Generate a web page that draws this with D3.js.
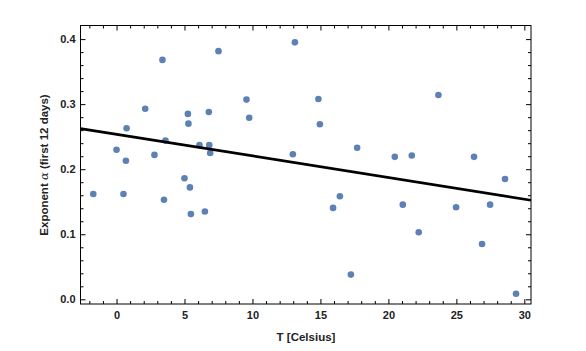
<!DOCTYPE html>
<html>
<head>
<meta charset="utf-8">
<script src="https://cdn.jsdelivr.net/npm/d3@7"></script>
<style>
  body { margin: 0; background: #fff; }
  svg text { font-family: "Liberation Sans", Arial, sans-serif; font-weight: bold; fill: #222; }
</style>
</head>
<body>
<div id="chart"></div>
<script>
// temperature (Celsius) of each sample
const tempC = [3.38, 7.5, 13.12, 2.11, 9.56, 9.76, 5.25, 6.79, 5.29, 0.74,
  0.0, 3.6, 6.1, 6.82, 6.89, 2.79, 0.69, 12.97, 5.0, 14.85,
  14.96, 23.68, 17.7, 20.47, 21.72, 26.3, 28.58, -1.71, 0.51, 3.49,
  5.4, 5.47, 6.5, 16.43, 15.93, 21.06, 24.98, 27.48, 22.23, 26.89,
  17.24, 29.39];

// exponent alpha for the first 12 days
const alphaVals = [0.368, 0.3815, 0.395, 0.293, 0.307, 0.279, 0.285, 0.288, 0.270, 0.263,
  0.230, 0.244, 0.237, 0.237, 0.225, 0.222, 0.213, 0.223, 0.186, 0.308,
  0.269, 0.314, 0.233, 0.219, 0.221, 0.219, 0.185, 0.162, 0.162, 0.153,
  0.172, 0.131, 0.135, 0.1585, 0.1405, 0.1455, 0.1415, 0.1455, 0.103, 0.085,
  0.038, 0.0086];

// fitted line, end points
const fitX = [-2.65, 30.49];
const fitY = [0.2625, 0.1523];

const xTicks = [0, 5, 10, 15, 20, 25, 30];
const yTicks = [0.0, 0.1, 0.2, 0.3, 0.4];

const points = tempC.map((t, i) => ({ t: t, a: alphaVals[i] }));

const fullWidth = 586;
const fullHeight = 351;
const margin = { top: 25.5, right: 55, bottom: 47, left: 80.5 };
const width = fullWidth - margin.left - margin.right;
const height = fullHeight - margin.top - margin.bottom;

const svg = d3.select("#chart")
  .append("svg")
  .attr("width", fullWidth)
  .attr("height", fullHeight)
  .append("g")
  .attr("transform", `translate(${margin.left},${margin.top})`);

// scales
const x = d3.scaleLinear().domain([-2.65, 30.49]).range([0, width]);
const y = d3.scaleLinear().domain([-0.0072, 0.4209]).range([height, 0]);

const xMinor = d3.range(-2, 31, 1).filter(v => v % 5 !== 0);
const yMinor = d3.range(0, 0.42, 0.02).filter(v => Math.round(v * 100) % 10 !== 0);

function styleAxis(g) {
  g.select(".domain").remove();
  g.selectAll("line").attr("stroke", "#000");
  g.selectAll("text").style("font-size", "11px");
}

// bottom axis
svg.append("g")
  .attr("transform", `translate(0,${height})`)
  .call(d3.axisBottom(x).tickValues(xTicks).tickSize(-5).tickPadding(7).tickFormat(d3.format("d")))
  .call(styleAxis);
svg.append("g")
  .attr("transform", `translate(0,${height})`)
  .call(d3.axisBottom(x).tickValues(xMinor).tickSize(-3).tickFormat(""))
  .call(styleAxis);

// top axis
svg.append("g")
  .call(d3.axisTop(x).tickValues(xTicks).tickSize(-5).tickFormat(""))
  .call(styleAxis);
svg.append("g")
  .call(d3.axisTop(x).tickValues(xMinor).tickSize(-3).tickFormat(""))
  .call(styleAxis);

// left axis
svg.append("g")
  .call(d3.axisLeft(y).tickValues(yTicks).tickSize(-5).tickPadding(5).tickFormat(d3.format(".1f")))
  .call(styleAxis);
svg.append("g")
  .call(d3.axisLeft(y).tickValues(yMinor).tickSize(-3).tickFormat(""))
  .call(styleAxis);

// right axis
svg.append("g")
  .attr("transform", `translate(${width},0)`)
  .call(d3.axisRight(y).tickValues(yTicks).tickSize(-5).tickFormat(""))
  .call(styleAxis);
svg.append("g")
  .attr("transform", `translate(${width},0)`)
  .call(d3.axisRight(y).tickValues(yMinor).tickSize(-3).tickFormat(""))
  .call(styleAxis);

// frame
svg.append("rect")
  .attr("width", width)
  .attr("height", height)
  .attr("fill", "none")
  .attr("stroke", "#000")
  .attr("stroke-width", 1);

// points
svg.selectAll(".dot")
  .data(points)
  .enter()
  .append("circle")
  .attr("class", "dot")
  .attr("cx", d => x(d.t))
  .attr("cy", d => y(d.a))
  .attr("r", 3.3)
  .attr("fill", "#5e81b5");

// fit line
const fitLine = d3.line()
  .x(d => x(d[0]))
  .y(d => y(d[1]));

svg.append("path")
  .datum(fitX.map((v, i) => [v, fitY[i]]))
  .attr("d", fitLine)
  .attr("fill", "none")
  .attr("stroke", "#000")
  .attr("stroke-width", 2.7);

// axis labels
svg.append("text")
  .attr("x", width / 2 + (306 - margin.left - width / 2))
  .attr("y", height + 37)
  .attr("text-anchor", "middle")
  .style("font-size", "11.5px")
  .text("T [Celsius]");

const yLabel = svg.append("text")
  .attr("transform", `translate(-33,${height / 2 + (165 - margin.top - height / 2)}) rotate(-90)`)
  .attr("text-anchor", "middle")
  .style("font-size", "11.5px");
yLabel.append("tspan").text("Exponent ");
yLabel.append("tspan").style("font-style", "italic").style("font-weight", "normal")
  .style("font-family", "'DejaVu Serif', serif").text("α");
yLabel.append("tspan").text(" (first 12 days)");
</script>
</body>
</html>
